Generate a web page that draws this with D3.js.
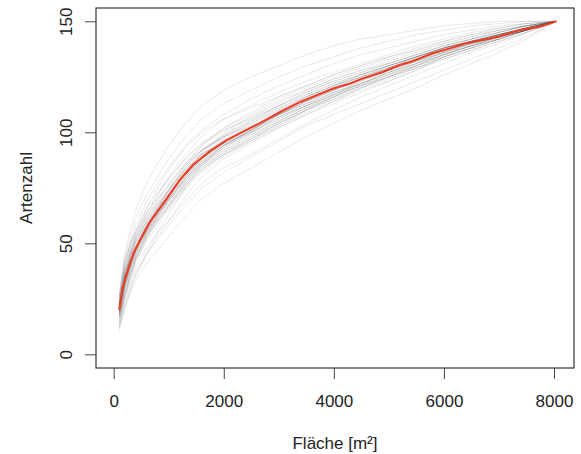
<!DOCTYPE html>
<html><head><meta charset="utf-8">
<script src="https://cdn.jsdelivr.net/npm/d3@7"></script>
<style>
html,body{margin:0;padding:0;background:#fff;}
text{font-family:"Liberation Sans",Arial,sans-serif;fill:#222;}
</style></head>
<body>
<svg id="chart" width="581" height="454"></svg>
<script>
// ---- data ----
const xTicks = [0, 2000, 4000, 6000, 8000];
const yTicks = [0, 50, 100, 150];
const xLabel = "Fläche [m²]";
const yLabel = "Artenzahl";

// area sample points shared by the permutation curves
const areaGrid = [100,200,300,400,600,800,1000,1300,1600,2000,2500,3000,3500,4000,4500,5000,5500,6000,6500,7000,7500,8040];

// individual accumulation curves (species counts at areaGrid)
const curves = [
  [24,40,50,58,69,77,84,94,101,108,115,121,126,131,135,138,141,144,146,148,149,150],
  [14,24,31,37,45,52,58,67,75,82,89,96,103,108,113,118,123,128,133,138,143,150],
  [19,33,42,48,58,65,72,80,88,95,101,108,114,119,124,128,132,136,140,143,147,150],
  [12,22,30,36,46,55,63,75,85,94,101,109,116,121,126,130,134,138,141,144,147,150],
  [26,42,50,55,64,70,77,86,92,98,103,108,113,118,122,126,130,135,139,142,146,150],
  [21,35,44,51,60,68,74,84,92,100,107,114,119,124,128,132,136,140,143,146,148,150],
  [17,29,37,43,53,60,66,75,83,90,97,104,110,116,121,125,130,134,138,142,146,150],
  [22,37,46,53,63,72,80,90,98,106,112,118,123,127,131,135,139,142,145,147,149,150],
  [18,30,38,45,54,61,67,77,85,92,98,104,110,115,120,125,129,133,137,141,145,150],
  [20,32,39,45,55,63,70,79,86,93,100,107,113,119,124,128,133,138,142,145,148,150],
  [23,36,43,49,58,66,73,83,91,99,106,112,118,123,127,131,135,139,142,145,148,150],
  [15,27,36,44,55,63,69,78,85,91,97,103,109,114,119,123,128,133,137,141,145,150],
  [21,34,42,48,56,63,70,82,91,99,105,111,116,121,126,130,134,138,141,144,147,150],
  [19,31,40,47,57,65,71,80,87,94,99,105,111,116,121,126,131,136,140,144,147,150],
  [25,43,53,61,72,80,88,98,106,113,119,125,130,134,138,141,144,146,148,149,150,150],
  [16,26,33,39,48,55,60,69,77,84,90,97,104,110,116,121,126,131,136,140,145,150],
  [20,34,43,50,61,69,76,86,94,101,107,113,119,124,128,131,135,139,142,145,148,150],
  [18,32,41,47,56,63,69,78,86,94,101,108,113,118,122,127,131,136,140,143,146,150],
  [22,36,45,51,59,66,72,82,90,97,103,110,116,121,125,129,133,137,141,144,147,150],
  [13,25,34,41,52,60,67,77,86,93,100,106,112,117,122,127,132,137,140,143,146,150],
  [21,33,40,46,55,62,68,77,84,90,96,102,108,113,118,123,128,134,138,142,146,150],
  [23,38,47,54,64,72,79,88,95,102,108,115,120,125,129,133,137,141,144,146,148,150],
  [17,28,36,43,53,62,70,80,88,95,100,106,112,118,123,128,132,136,139,143,146,150],
  [20,35,45,53,62,68,74,83,90,96,101,107,112,117,122,127,131,135,139,143,147,150],
  [24,38,46,52,60,67,73,81,88,95,102,109,115,120,125,129,134,138,141,144,147,150],
  [16,27,35,42,51,58,65,74,82,89,96,103,110,116,122,127,131,135,139,142,146,150],
  [19,32,40,47,58,66,74,84,92,98,104,110,116,121,125,129,133,137,140,143,146,150],
  [22,34,41,47,57,65,72,81,88,95,100,107,112,117,121,125,129,134,138,142,146,150],
  [18,31,39,46,56,64,71,82,90,98,105,112,118,123,127,131,135,139,142,145,148,150],
  [21,36,44,50,58,64,70,79,86,92,99,105,111,117,123,128,132,136,140,143,146,150],
  [14,26,35,43,54,62,69,79,87,94,101,108,114,119,124,129,134,138,141,144,147,150],
  [26,41,49,56,66,73,79,88,95,101,106,112,117,122,126,130,134,138,141,144,147,150],
  [20,33,41,48,57,64,70,79,87,94,101,108,114,120,125,130,134,138,141,144,147,150],
  [17,30,39,46,57,66,74,85,94,102,109,116,121,126,130,134,137,140,143,146,148,150],
  [22,35,42,48,55,61,67,76,83,90,97,104,110,115,120,124,129,134,138,142,146,150],
  [19,34,44,52,62,70,76,85,92,98,104,111,117,122,126,130,134,138,141,144,147,150],
  [11,20,28,35,45,53,60,71,80,88,95,102,108,114,120,125,130,135,139,143,146,150],
  [23,39,48,55,66,75,83,93,100,106,111,116,121,126,130,134,138,141,144,147,149,150],
  [18,30,38,44,53,60,66,76,84,91,98,105,111,116,121,126,130,135,139,143,146,150],
  [21,33,41,48,59,67,74,83,90,96,102,108,114,119,124,129,133,137,141,144,147,150],
  [27,45,56,65,77,86,94,104,112,119,125,130,135,139,142,144,146,148,149,150,150,150],
  [12,21,28,33,41,47,53,62,70,77,84,91,98,104,110,115,120,126,131,136,142,150]
];

// mean accumulation curve (red)
const meanArea = [100,160,240,360,480,660,960,1200,1450,1750,2050,2350,2650,3050,3400,3700,4000,4300,4500,4900,5200,5400,5800,6100,6400,6700,7000,7370,7740,8040];
const meanSpecies = [20,29.5,36.5,45.5,51.5,59.7,70,78.5,85.5,91.5,96.5,100.3,104,109.5,113.8,116.8,119.8,122,124,127.3,130.3,131.8,135.6,137.8,140.1,141.6,143.1,146,147.6,150];

// ---- layout ----
const box = {left: 96, right: 574, top: 8, bottom: 368};
const svg = d3.select("#chart");
const x = d3.scaleLinear().domain([0, 8000]).range([113.7, 554]);
const y = d3.scaleLinear().domain([0, 150]).range([354.3, 21.3]);

const line = d3.line().x(d => x(d[0])).y(d => y(d[1]));

// gray permutation curves
svg.append("g").selectAll("path").data(curves).join("path")
  .attr("d", c => line(c.map((v, i) => [areaGrid[i], v])))
  .attr("fill", "none")
  .attr("stroke", "#000")
  .attr("stroke-opacity", 0.09)
  .attr("stroke-width", 1);

// red mean curve
svg.append("path")
  .attr("d", line(meanArea.map((a, i) => [a, meanSpecies[i]])))
  .attr("fill", "none")
  .attr("stroke", "#ee3b24")
  .attr("stroke-width", 2.1)
  .attr("stroke-linejoin", "round");

// box
svg.append("rect")
  .attr("x", box.left).attr("y", box.top)
  .attr("width", box.right - box.left).attr("height", box.bottom - box.top)
  .attr("fill", "none").attr("stroke", "#222").attr("stroke-width", 1.1);

// x axis
const gx = svg.append("g").attr("transform", `translate(0,${box.bottom})`)
  .call(d3.axisBottom(x).tickValues(xTicks).tickSize(11).tickFormat(d3.format("d")));
gx.select(".domain").remove();
gx.selectAll("line").attr("stroke", "#444");
gx.selectAll("text").attr("y", 39).attr("dy", null)
  .style("font-size", "17px").attr("fill", "#222");

// y axis
const gy = svg.append("g").attr("transform", `translate(${box.left},0)`)
  .call(d3.axisLeft(y).tickValues(yTicks).tickSize(11).tickFormat(d3.format("d")));
gy.select(".domain").remove();
gy.selectAll("line").attr("stroke", "#444");
gy.selectAll("text").attr("x", null).attr("dy", null)
  .attr("text-anchor", "middle")
  .attr("transform", "translate(-24,0) rotate(-90)")
  .style("font-size", "17px").attr("fill", "#222");

// axis titles
svg.append("text").attr("x", 335).attr("y", 449)
  .attr("text-anchor", "middle").style("font-size", "17px").text(xLabel);
svg.append("text").attr("transform", "translate(32,188) rotate(-90)")
  .attr("text-anchor", "middle").style("font-size", "17px").text(yLabel);
</script>
</body></html>
